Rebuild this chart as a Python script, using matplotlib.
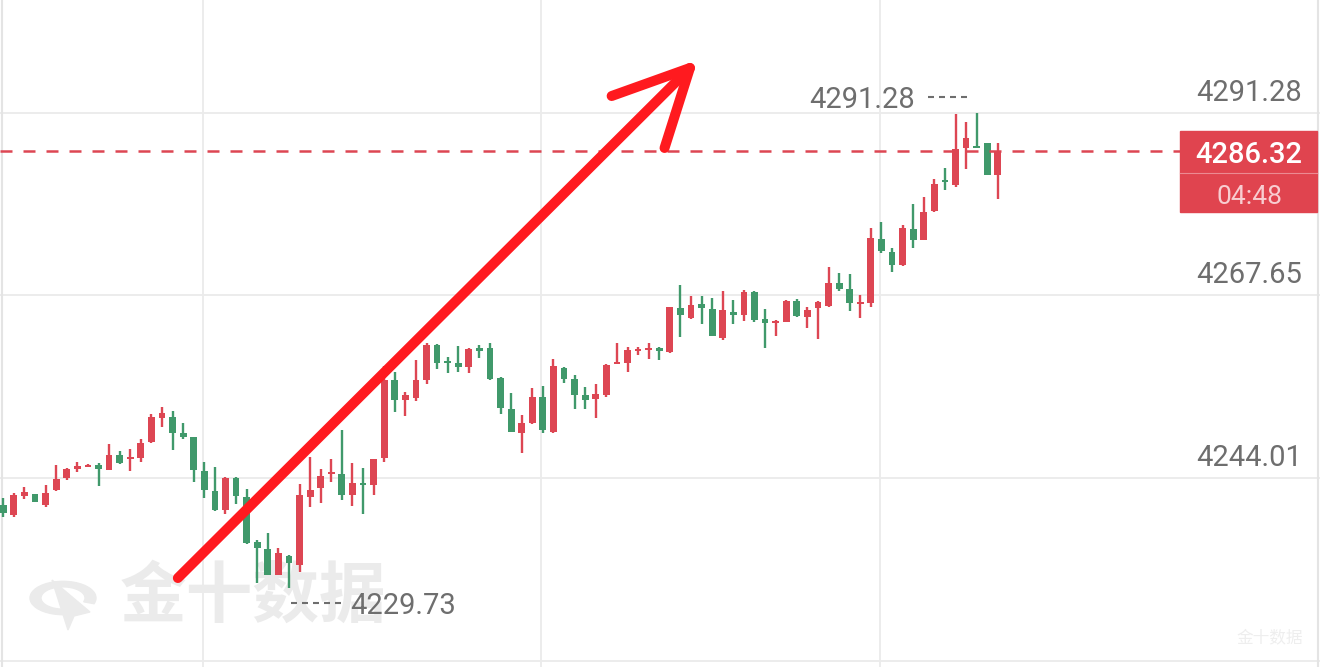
import numpy as np
import matplotlib
matplotlib.use('Agg')
import matplotlib.pyplot as plt
import matplotlib.patches as patches

# candle data (index 0 = leftmost bar)
opens = [
    4240.52, 4239.22, 4241.68, 4241.94, 4240.52, 4242.46, 4244.01, 4245.18, 4245.44, 4245.70,
    4245.05, 4247.00, 4246.47, 4246.60, 4248.67, 4251.78, 4251.91, 4249.84, 4249.32, 4244.92,
    4242.33, 4239.87, 4244.01, 4241.55, 4235.72, 4234.82, 4231.45, 4233.91, 4232.74, 4241.55,
    4242.72, 4244.53, 4244.53, 4241.81, 4243.36, 4243.10, 4246.60, 4256.70, 4254.11, 4254.37,
    4256.70, 4261.23, 4259.03, 4258.90, 4258.39, 4260.85, 4260.85, 4256.96, 4252.95, 4249.84,
    4251.13, 4254.50, 4249.97, 4258.26, 4256.83, 4254.76, 4254.24, 4254.76, 4258.78, 4258.90,
    4260.46, 4260.59, 4260.85, 4260.33, 4266.03, 4264.73, 4266.55, 4265.90, 4262.14, 4265.51,
    4265.12, 4268.10, 4264.60, 4264.08, 4264.21, 4266.93, 4264.86, 4266.03, 4266.29, 4269.26,
    4268.49, 4266.55, 4266.67, 4274.96, 4273.28, 4271.59, 4276.25, 4274.83, 4278.59, 4282.60,
    4281.95, 4286.75, 4287.01, 4287.40, 4283.25]
highs = [
    4241.42, 4242.07, 4242.85, 4241.94, 4243.11, 4245.70, 4245.31, 4246.09, 4245.83, 4245.96,
    4248.41, 4247.51, 4247.77, 4249.06, 4252.30, 4253.20, 4252.69, 4251.13, 4249.32, 4246.09,
    4245.44, 4244.14, 4244.14, 4242.59, 4235.98, 4236.89, 4234.95, 4234.04, 4243.23, 4246.73,
    4245.18, 4246.47, 4250.23, 4245.96, 4245.31, 4246.47, 4258.52, 4257.74, 4255.15, 4259.29,
    4261.49, 4261.36, 4259.68, 4261.10, 4260.85, 4261.23, 4261.49, 4257.09, 4255.02, 4252.17,
    4255.67, 4255.93, 4259.42, 4258.39, 4257.35, 4255.80, 4256.18, 4258.78, 4261.49, 4260.98,
    4260.98, 4261.49, 4260.98, 4266.16, 4269.01, 4267.58, 4267.58, 4267.32, 4268.23, 4267.06,
    4268.36, 4268.23, 4265.90, 4264.47, 4267.06, 4267.19, 4266.16, 4266.93, 4271.33, 4270.56,
    4270.43, 4267.71, 4276.38, 4277.16, 4273.80, 4276.77, 4279.49, 4280.40, 4282.73, 4284.16,
    4291.10, 4290.11, 4291.28, 4287.40, 4287.40]
lows = [
    4238.96, 4238.96, 4241.29, 4240.91, 4240.26, 4242.33, 4243.75, 4244.79, 4245.57, 4242.98,
    4245.05, 4245.83, 4244.92, 4246.03, 4248.54, 4250.62, 4247.64, 4249.06, 4243.49, 4241.42,
    4239.74, 4239.35, 4240.64, 4235.46, 4230.41, 4231.45, 4231.45, 4229.73, 4231.83, 4240.26,
    4240.78, 4243.49, 4241.16, 4240.39, 4239.35, 4241.81, 4246.09, 4252.56, 4252.04, 4253.98,
    4256.18, 4258.13, 4257.61, 4257.74, 4257.61, 4259.55, 4256.70, 4252.30, 4249.97, 4247.25,
    4251.00, 4249.84, 4249.84, 4256.31, 4252.95, 4252.95, 4251.78, 4254.50, 4258.78, 4257.74,
    4259.94, 4259.42, 4259.29, 4260.20, 4262.27, 4264.60, 4263.96, 4262.40, 4261.88, 4263.96,
    4264.34, 4264.21, 4260.85, 4262.40, 4264.21, 4264.86, 4263.44, 4262.01, 4266.16, 4268.23,
    4265.64, 4264.73, 4266.16, 4273.15, 4270.69, 4271.46, 4273.80, 4274.83, 4278.46, 4281.31,
    4281.70, 4284.03, 4286.75, 4283.25, 4280.14]
closes = [
    4239.48, 4241.81, 4242.20, 4240.91, 4242.07, 4243.88, 4245.18, 4245.57, 4245.70, 4245.18,
    4247.00, 4245.96, 4246.60, 4248.54, 4251.91, 4252.43, 4249.84, 4249.32, 4245.05, 4242.46,
    4239.87, 4244.01, 4241.68, 4235.59, 4234.95, 4231.45, 4234.30, 4233.00, 4241.81, 4242.46,
    4244.27, 4244.66, 4241.81, 4243.36, 4243.10, 4246.47, 4256.70, 4254.11, 4254.76, 4256.70,
    4261.23, 4258.90, 4258.90, 4258.39, 4260.72, 4260.46, 4256.83, 4253.08, 4249.97, 4251.13,
    4254.50, 4250.23, 4258.52, 4256.83, 4254.76, 4254.11, 4254.89, 4258.65, 4259.03, 4260.59,
    4260.72, 4260.85, 4260.46, 4266.16, 4265.12, 4266.42, 4266.03, 4262.40, 4265.77, 4265.12,
    4268.10, 4264.47, 4264.08, 4264.34, 4266.93, 4264.99, 4265.77, 4266.80, 4269.26, 4268.49,
    4266.67, 4266.67, 4275.09, 4273.41, 4271.59, 4276.38, 4274.83, 4278.46, 4282.08, 4282.34,
    4286.62, 4288.04, 4286.75, 4283.25, 4286.32]

grid_prices = [4291.28, 4267.65, 4244.01, 4220.37]
axis_labels = ['4291.28', '4267.65', '4244.01']
vgrid_bars = [18.9, 50.85, 82.85]
last_price = 4286.32
countdown = '04:48'

# hand drawn arrow (bar index, price)
arrow_x = [16.5, 64.9]
arrow_y = [4231.06, 4297.11]
wing_x = [57.5, 64.9, 62.5]
wing_y = [4293.48, 4297.11, 4286.75]

RED = '#dd4653'
GREEN = '#40996b'
GRID = '#ebebeb'
LABEL = '#6e6e6e'
WMARK = '#ebebeb'

W, H = 1320, 667
PX_BAR = 10.58      # pixels per bar
PX_PRICE = 7.722    # pixels per price unit
X0 = 3.3            # pixel x of bar 0
Y_REF, P_REF = 113, 4291.28

plt.rcParams['font.family'] = ['Roboto', 'Noto Sans CJK SC', 'DejaVu Sans']
plt.rcParams['lines.scale_dashes'] = False

fig = plt.figure(figsize=(W / 100, H / 100), dpi=100)
ax = fig.add_axes([0, 0, 1, 1])
ax.set_xlim(-X0 / PX_BAR, (W - X0) / PX_BAR)
ax.set_ylim(P_REF - (H - Y_REF) / PX_PRICE, P_REF + Y_REF / PX_PRICE)
ax.axis('off')

def pt(px):
    return px * 72 / 100.0

# grid
for gp in grid_prices:
    ax.axhline(gp, color=GRID, lw=1.3, zorder=0)
for vb in vgrid_bars:
    ax.axvline(vb, color=GRID, lw=1.3, zorder=0)
ax.plot([0.0015, 0.0015], [0, 1], transform=ax.transAxes, color='#e4e4e4', lw=1.5, zorder=0)
ax.plot([0.9985, 0.9985], [0, 1], transform=ax.transAxes, color='#e4e4e4', lw=1.5, zorder=0)

# watermark
ax.text(253 / W, 1 - 597 / H, '金十数据', transform=ax.transAxes, family='Noto Sans CJK SC',
        fontsize=48, fontweight='bold', color=WMARK, ha='center', va='center', zorder=0.5)
ring = patches.Wedge((63 / W, 1 - 598 / H), 33 / W, -20, 270, width=11 / W, color=WMARK, zorder=0.5)
ring.set_transform(fig.transFigure)
ax.add_patch(ring)
ax.add_patch(patches.Polygon([(52 / W, 1 - 580 / H), (90 / W, 1 - 612 / H), (74 / W, 1 - 616 / H),
                              (68 / W, 1 - 630 / H)],
                             closed=True, transform=fig.transFigure, color=WMARK, zorder=0.5))
ax.text(1270 / W, 1 - 638 / H, '金十数据', transform=ax.transAxes, family='Noto Sans CJK SC',
        fontsize=12, color='#eeeeee', ha='center', va='center', zorder=0.5)

# candles
o = np.array(opens); c = np.array(closes)
hi = np.array(highs); lo = np.array(lows)
idx = np.arange(len(o))
cols = np.where(c >= o, RED, GREEN)
ax.vlines(idx, lo, hi, colors=cols, lw=1.7, zorder=2)
body_bot = np.minimum(o, c)
body_h = np.maximum(np.abs(c - o), 0.28)
ax.bar(idx, body_h, bottom=body_bot, width=0.64, color=cols, linewidth=0, zorder=3)

# last price dashed line
ax.axhline(last_price, xmin=0, xmax=1180 / W, color=RED, lw=1.8, dashes=(pt(12), pt(11)), zorder=4)

# axis labels on the right
for gp, lab in zip(grid_prices, axis_labels):
    ax.annotate(lab, xy=(1302 / W, gp), xycoords=('axes fraction', 'data'),
                xytext=(0, pt(12)), textcoords='offset points', ha='right', va='baseline',
                fontsize=21, color=LABEL, zorder=5)

# high / low markers
i_hi = int(np.argmax(hi)); i_lo = int(np.argmin(lo))
ax.plot([i_hi - 48.7 / PX_BAR, i_hi - 6.7 / PX_BAR], [hi[i_hi] + 16 / PX_PRICE] * 2,
        color=LABEL, lw=1.5, dashes=(pt(6), pt(5)), zorder=5)
ax.text(i_hi - 61.7 / PX_BAR, hi[i_hi] + 5 / PX_PRICE, '%.2f' % hi[i_hi], ha='right',
        va='baseline', fontsize=21, color=LABEL, zorder=5)
ax.plot([i_lo + 0.2, i_lo + 57 / PX_BAR], [lo[i_lo] - 15 / PX_PRICE] * 2,
        color=LABEL, lw=1.5, dashes=(pt(6), pt(5)), zorder=5)
ax.text(i_lo + 61 / PX_BAR, lo[i_lo] - 26 / PX_PRICE, '%.2f' % lo[i_lo], ha='left',
        va='baseline', fontsize=21, color=LABEL, zorder=5)

# price tag
fig.patches.append(patches.Rectangle((1180 / W, 1 - 212 / H), 137 / W, 81 / H,
                                     transform=fig.transFigure, color='#e0444f', zorder=6))
fig.lines.append(plt.Line2D([1180 / W, 1317 / W], [1 - 172.5 / H] * 2, transform=fig.transFigure,
                            color='#ec8a92', lw=0.8, zorder=7))
fig.text(1249 / W, 1 - 163 / H, '%.2f' % last_price, ha='center', va='baseline',
         fontsize=21, fontweight='medium', color='white', zorder=8)
fig.text(1249 / W, 1 - 204 / H, countdown, ha='center', va='baseline',
         fontsize=19, color='#f8cdd1', zorder=8)

# arrow
ax.plot(arrow_x, arrow_y, color='#ff1a1f', lw=7.2, solid_capstyle='round', zorder=9)
ax.plot(wing_x, wing_y, color='#ff1a1f', lw=7.2, solid_capstyle='round',
        solid_joinstyle='round', zorder=9)

fig.savefig('out.png', dpi=100, facecolor='white')
